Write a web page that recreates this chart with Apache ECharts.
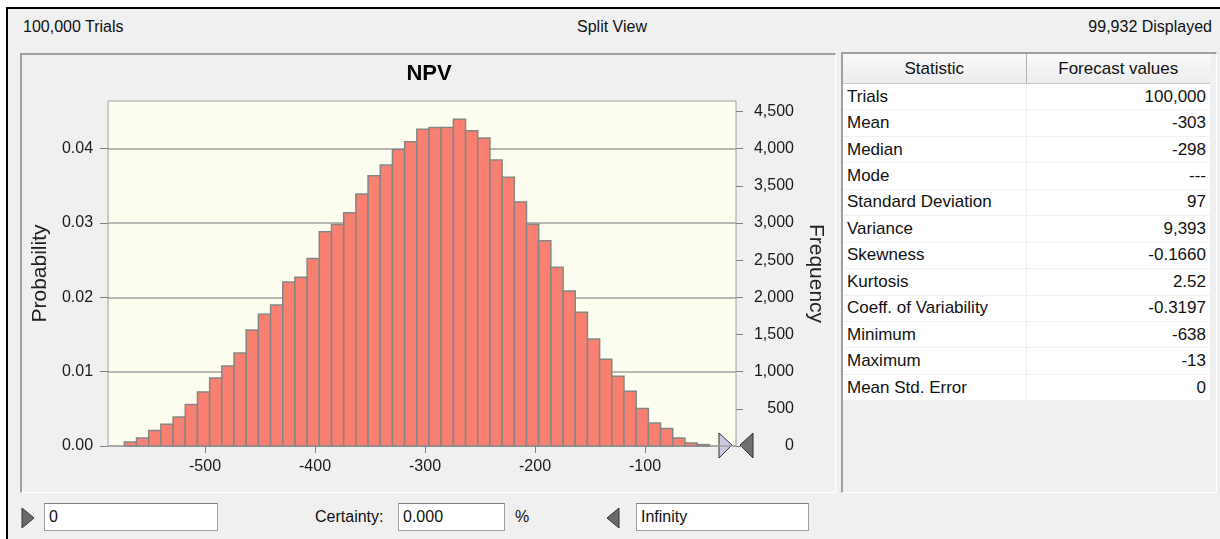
<!DOCTYPE html>
<html>
<head>
<meta charset="utf-8">
<title>NPV</title>
<script src="https://cdn.jsdelivr.net/npm/echarts@6/dist/echarts.min.js"></script>
<style>
body {
  margin: 0;
  width: 1220px;
  height: 539px;
  background: #fff;
  overflow: hidden;
  font-family: "Liberation Sans", Arial, sans-serif;
  color: #111;
  position: relative;
}
.frame {
  position: absolute;
  left: 6px; top: 7px;
  width: 1214px; height: 532px;
  border-left: 2px solid #000;
  border-top: 2px solid #000;
  background: #f0f0f0;
}
.head { position: absolute; top: 18px; font-size: 16px; line-height: 18px; }
.panel {
  position: absolute;
  box-sizing: border-box;
  border-top: 2px solid #a0a0a0;
  border-left: 2px solid #a0a0a0;
  border-right: 1px solid #fff;
  border-bottom: 1px solid #fff;
}
#chart { position: absolute; left: 22px; top: 55px; width: 812px; height: 436px; }
.stats {
  position: absolute; left: 843px; top: 54px; width: 367px;
  border-collapse: collapse; font-size: 17px; table-layout: fixed;
}
.stats th {
  height: 29px; padding: 0; font-weight: normal;
  background: linear-gradient(#fafafa, #ececec);
  border-bottom: 1px solid #c8c8c8;
}
.stats th + th { border-left: 1px solid #b0b0b0; }
.stats tr.row { height: 26.45px; }
.stats td {
  padding: 0 4px; background: #fff;
  border-bottom: 1px solid #f0f0f0;
}
.stats td + td { text-align: right; border-left: 1px solid #f0f0f0; }
.box {
  position: absolute; top: 503px; height: 28px; box-sizing: border-box;
  background: #fff; border: 1px solid #a0a0a0; border-top-color: #808080;
  font-size: 16px; line-height: 26px; padding-left: 4px;
}
.lbl { position: absolute; top: 508px; font-size: 16px; line-height: 18px; }
svg { position: absolute; }
</style>
</head>
<body>
<div class="frame"></div>
<div class="head" style="left:23px">100,000 Trials</div>
<div class="head" style="left:577px">Split View</div>
<div class="head" style="right:8px">99,932 Displayed</div>

<div class="panel" style="left:20px;top:53px;width:816px;height:440px"></div>
<div class="panel" style="left:841px;top:52px;width:376px;height:441px"></div>
<div id="chart"></div>
<table class="stats" id="stats"></table>

<svg style="left:21px;top:507px" width="14" height="23"><polygon points="1,1 13,11 1,21" fill="#6a6a6a" stroke="#333" stroke-width="1"/></svg>
<div class="box" style="left:44px;width:174px">0</div>
<div class="lbl" style="left:315px">Certainty:</div>
<div class="box" style="left:398px;width:107px">0.000</div>
<div class="lbl" style="left:515px">%</div>
<svg style="left:605px;top:507px" width="16" height="23"><polygon points="14,1 2,11 14,21" fill="#6a6a6a" stroke="#333" stroke-width="1"/></svg>
<div class="box" style="left:636px;width:173px">Infinity</div>

<script>
// histogram bins (NPV), 100,000 trials
const binStart = -573.4;
const binWidth = 11.08;
const counts = [
  54, 108, 207, 292, 390, 557, 727, 915, 1077, 1252,
  1561, 1773, 1898, 2207, 2270, 2522, 2880, 2980, 3136, 3388,
  3634, 3778, 3989, 4091, 4260, 4285, 4285, 4393, 4240, 4141,
  3845, 3616, 3280, 2984, 2759, 2405, 2086, 1800, 1440, 1167,
  938, 736, 503, 310, 234, 108, 40, 19
];
const xTicks = [-500, -400, -300, -200, -100];
const probTicks = [0, 0.01, 0.02, 0.03, 0.04];
const freqTicks = [0, 500, 1000, 1500, 2000, 2500, 3000, 3500, 4000, 4500];

const statNames = ['Trials', 'Mean', 'Median', 'Mode', 'Standard Deviation', 'Variance',
  'Skewness', 'Kurtosis', 'Coeff. of Variability', 'Minimum', 'Maximum', 'Mean Std. Error'];
const statValues = ['100,000', '-303', '-298', '---', '97', '9,393',
  '-0.1660', '2.52', '-0.3197', '-638', '-13', '0'];

// statistics table
let html = '<colgroup><col style="width:183px"><col></colgroup>'
  + '<tr><th>Statistic</th><th>Forecast values</th></tr>';
statNames.forEach((n, i) => {
  html += '<tr class="row"><td>' + n + '</td><td>' + statValues[i] + '</td></tr>';
});
document.getElementById('stats').innerHTML = html;

const bins = counts.map((c, i) => [binStart + i * binWidth, binStart + (i + 1) * binWidth, c]);

const chart = echarts.init(document.getElementById('chart'));
const labelStyle = { color: '#1a1a1a', fontSize: 16, fontFamily: 'Liberation Sans' };

chart.setOption({
  animation: false,
  title: {
    text: 'NPV', left: 402, top: 3, textAlign: 'center',
    textStyle: { fontSize: 22, fontWeight: 'bold', color: '#000', fontFamily: 'Liberation Sans' }
  },
  grid: {
    left: 86, top: 46, width: 628, height: 345,
    show: true, backgroundColor: '#fefef0', borderColor: '#a0a0a0', borderWidth: 1
  },
  xAxis: {
    type: 'value', min: -588.2, max: -17.3,
    axisLine: { show: false },
    splitLine: { show: false },
    axisTick: { customValues: xTicks, length: 7, lineStyle: { color: '#808080' } },
    axisLabel: { customValues: xTicks, margin: 13, ...labelStyle }
  },
  yAxis: [{
    type: 'value', min: 0, max: 0.0464, interval: 0.01,
    name: 'Probability', nameLocation: 'middle', nameGap: 54,
    nameTextStyle: { fontSize: 21, color: '#222', fontFamily: 'Liberation Sans' },
    axisLine: { show: false },
    splitLine: { lineStyle: { color: '#a0a0a0', width: 1.5 } },
    axisTick: { customValues: probTicks, length: 8, lineStyle: { color: '#808080' } },
    axisLabel: { customValues: probTicks, margin: 15, formatter: v => v.toFixed(2), ...labelStyle }
  }, {
    type: 'value', position: 'right', min: 0, max: 4640, interval: 500,
    name: 'Frequency', nameLocation: 'middle', nameGap: 68, nameRotate: -90,
    nameTextStyle: { fontSize: 21, color: '#222', fontFamily: 'Liberation Sans' },
    axisLine: { show: false },
    splitLine: { show: false },
    axisTick: { customValues: freqTicks, length: 7, lineStyle: { color: '#808080' } },
    axisLabel: {
      customValues: freqTicks, margin: 58, align: 'right',
      formatter: v => v.toLocaleString('en-US'), ...labelStyle
    }
  }],
  series: [{
    type: 'custom',
    yAxisIndex: 1,
    data: bins,
    encode: { x: [0, 1], y: 2 },
    renderItem: (params, api) => {
      const p0 = api.coord([api.value(0), api.value(2)]);
      const p1 = api.coord([api.value(1), 0]);
      return {
        type: 'rect',
        shape: { x: p0[0], y: p0[1], width: p1[0] - p0[0], height: p1[1] - p0[1] },
        style: { fill: '#f98070', stroke: '#868686', lineWidth: 1.5 }
      };
    }
  }],
  // certainty grabbers at the right end of the axis
  graphic: [{
    type: 'polygon', shape: { points: [[697, 378], [710, 390], [697, 403]] },
    style: { fill: '#c9c9e2', stroke: '#333', lineWidth: 1 }
  }, {
    type: 'polygon', shape: { points: [[731, 378], [718, 390], [731, 403]] },
    style: { fill: '#707070', stroke: '#333', lineWidth: 1 }
  }]
});
</script>
</body>
</html>
